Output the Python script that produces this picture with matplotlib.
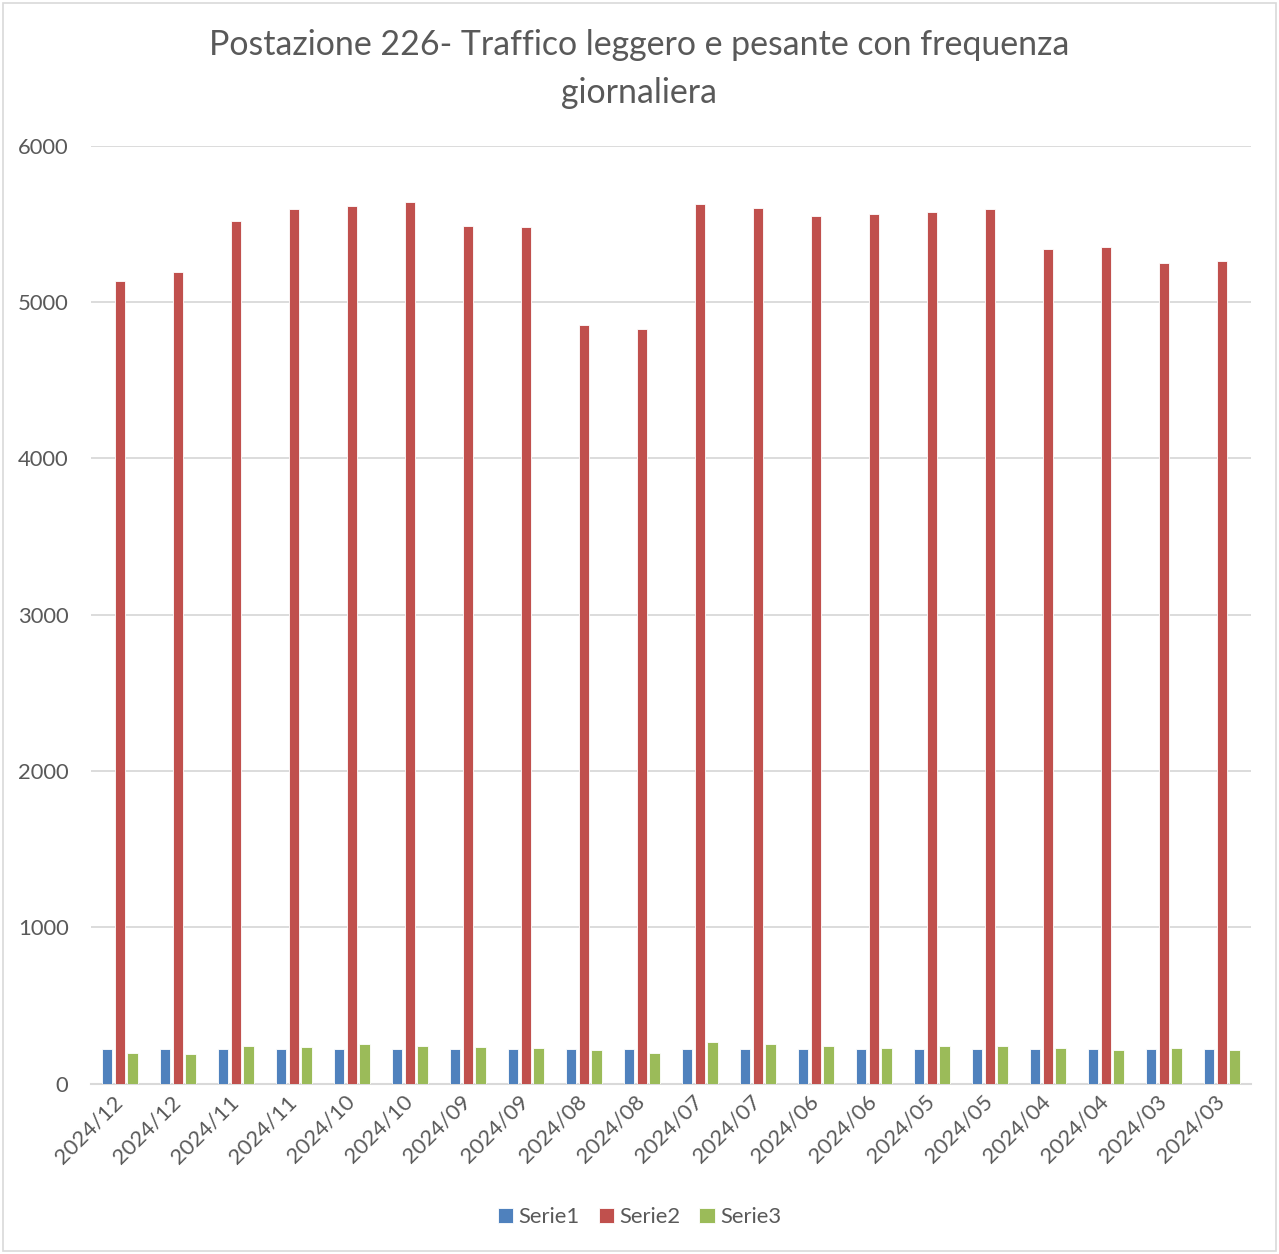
import matplotlib
matplotlib.use("Agg")
import matplotlib.pyplot as plt
import numpy as np
from matplotlib.patches import Rectangle

categories = ["2024/12", "2024/12", "2024/11", "2024/11", "2024/10", "2024/10",
              "2024/09", "2024/09", "2024/08", "2024/08", "2024/07", "2024/07",
              "2024/06", "2024/06", "2024/05", "2024/05", "2024/04", "2024/04",
              "2024/03", "2024/03"]
serie1 = [222] * 20
serie2 = [5135, 5190, 5520, 5592, 5612, 5637, 5489, 5483, 4850, 4830,
          5624, 5604, 5553, 5566, 5579, 5598, 5342, 5355, 5252, 5265]
serie3 = [192, 186, 243, 235, 250, 241, 231, 224, 213, 198,
          267, 250, 237, 224, 243, 237, 228, 213, 224, 213]
series_names = ["Serie1", "Serie2", "Serie3"]
colors = ["#4f81bd", "#c0504d", "#9bbb59"]
yticks = [0, 1000, 2000, 3000, 4000, 5000, 6000]

plt.rcParams['font.family'] = ['Lato', 'DejaVu Sans']
txt = "#595959"
grid = "#d9d9d9"

fig = plt.figure(figsize=(12.79, 12.54), dpi=100)
ax = fig.add_axes([90.7/1279, 1 - 1083.5/1254, 1160/1279, (1083.5-145.7)/1254])

x = np.arange(len(categories))
w = 0.175
off = 0.22
for i, (vals, name, c) in enumerate(zip([serie1, serie2, serie3], series_names, colors)):
    ax.bar(x + (i - 1) * off, vals, width=w, color=c, label=name,
           edgecolor="white", linewidth=0.6, zorder=3)

ax.set_xlim(-0.5, len(categories) - 0.5)
ax.set_ylim(0, 6000)
ax.set_yticks(yticks)
ax.set_yticklabels([str(v) for v in yticks], fontsize=15.8, color=txt)
ax.set_xticks(x)
ax.set_xticklabels(categories, rotation=45, ha="right", va="center",
                   rotation_mode="anchor", fontsize=15.8, color=txt)
ax.tick_params(axis="both", length=0)
ax.tick_params(axis="y", pad=16)
ax.tick_params(axis="x", pad=11)
ax.yaxis.grid(True, color=grid, linewidth=1.3, zorder=0)
ax.set_axisbelow(True)
for s in ["top", "right", "left"]:
    ax.spines[s].set_visible(False)
ax.spines["bottom"].set_color(grid)
ax.spines["bottom"].set_linewidth(1.5)

fig.text(0.5, 1 - 69/1254, "Postazione 226- Traffico leggero e pesante con frequenza\ngiornaliera",
         ha="center", va="center", fontsize=24.4, color=txt, linespacing=1.6)

handles, labels = ax.get_legend_handles_labels()
leg = fig.legend(handles, labels, loc="center", bbox_to_anchor=(0.5, 1 - 1217/1254),
                 ncol=3, frameon=False, fontsize=15.8, handlelength=0.7,
                 handleheight=0.7, handletextpad=0.25, columnspacing=0.85)
for t in leg.get_texts():
    t.set_color(txt)

fig.patches.append(Rectangle((3/1279, 3/1254), 1 - 6/1279, 1 - 6/1254,
                             transform=fig.transFigure, fill=False,
                             edgecolor=grid, linewidth=1.2))

fig.savefig("out.png", dpi=100, facecolor="white")
